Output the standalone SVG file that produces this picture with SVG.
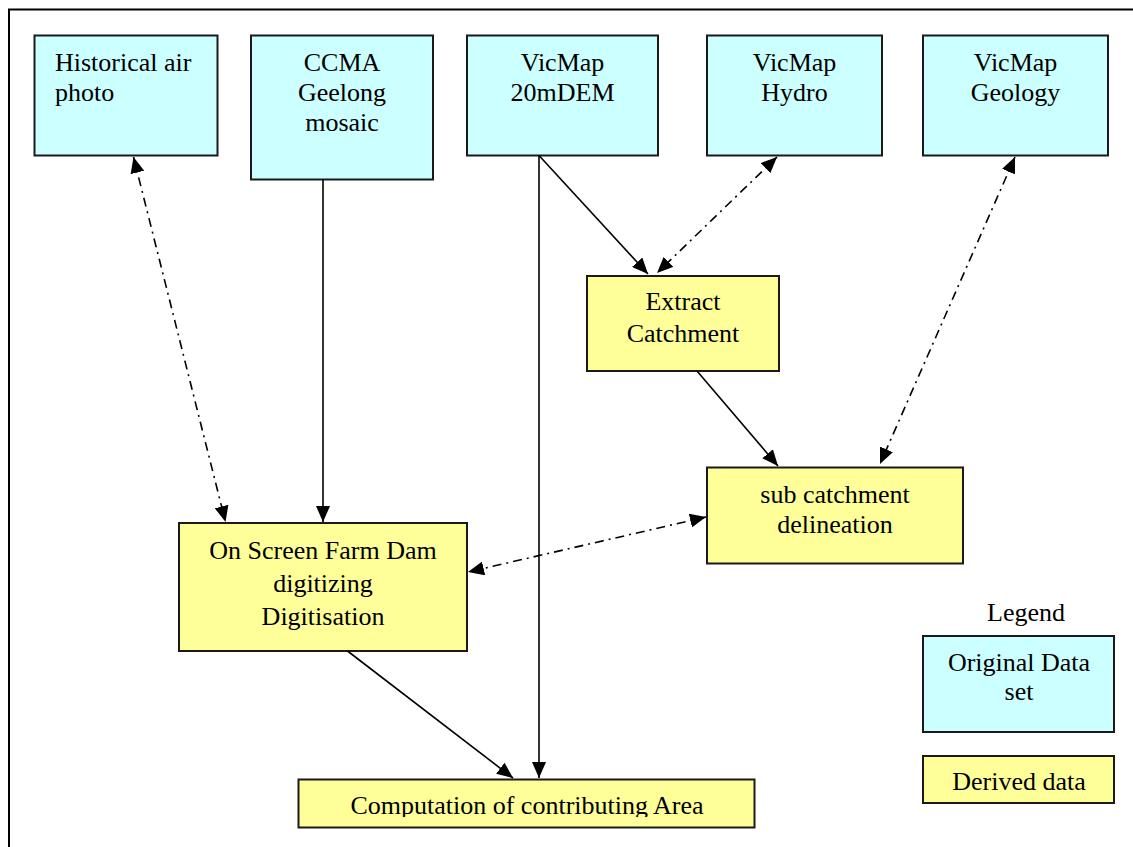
<svg xmlns="http://www.w3.org/2000/svg" width="1133" height="847" viewBox="0 0 1133 847">
<style>
.orig{fill:#CCFFFF;stroke:#1a1a1a;stroke-width:2}
.der{fill:#FFFF99;stroke:#1a1a1a;stroke-width:2}
text{font-family:"Liberation Serif","Times New Roman",serif;font-size:26px;fill:#000}
.c{text-anchor:middle}
.solid{fill:none;stroke:#000;stroke-width:1.6}
.dash{fill:none;stroke:#000;stroke-width:1.6;stroke-dasharray:9 5 2 5}
</style>
<defs>
<marker id="ah" markerUnits="userSpaceOnUse" markerWidth="17" markerHeight="14" viewBox="0 0 17 14" refX="16" refY="7" orient="auto-start-reverse">
<path d="M0,0 L16,7 L0,14 z" fill="#000" stroke="none"/>
</marker>
<clipPath id="clipComp"><rect x="298" y="779" width="457" height="38"/></clipPath>
</defs>
<rect x="0" y="0" width="1133" height="847" fill="#fff"/>
<path d="M9,847 L9,9.5 L1133,9.5" fill="none" stroke="#000" stroke-width="2"/>

<g id="historical">
<rect class="orig" x="34.5" y="35.5" width="183" height="120"/>
<text x="55" y="71">Historical air</text>
<text x="55" y="101">photo</text>
</g>
<g id="ccma">
<rect class="orig" x="251" y="35.5" width="182" height="144"/>
<text class="c" x="342" y="71">CCMA</text>
<text class="c" x="342" y="101">Geelong</text>
<text class="c" x="342" y="131">mosaic</text>
</g>
<g id="dem">
<rect class="orig" x="467" y="35.5" width="191" height="120"/>
<text class="c" x="562.5" y="71">VicMap</text>
<text class="c" x="562.5" y="101">20mDEM</text>
</g>
<g id="hydro">
<rect class="orig" x="707" y="35.5" width="175" height="120"/>
<text class="c" x="794.5" y="71">VicMap</text>
<text class="c" x="794.5" y="101">Hydro</text>
</g>
<g id="geology">
<rect class="orig" x="923" y="35.5" width="185" height="120"/>
<text class="c" x="1015.5" y="71">VicMap</text>
<text class="c" x="1015.5" y="101">Geology</text>
</g>
<g id="extract">
<rect class="der" x="587" y="276" width="192" height="95"/>
<text class="c" x="683" y="310">Extract</text>
<text class="c" x="683" y="342">Catchment</text>
</g>
<g id="subcatchment">
<rect class="der" x="707" y="467.5" width="256" height="96"/>
<text class="c" x="835" y="503">sub catchment</text>
<text class="c" x="835" y="533">delineation</text>
</g>
<g id="onscreen">
<rect class="der" x="179" y="523" width="288" height="128"/>
<text class="c" x="323" y="559">On Screen Farm Dam</text>
<text class="c" x="323" y="592">digitizing</text>
<text class="c" x="323" y="625">Digitisation</text>
</g>
<g id="computation">
<rect class="der" x="298.5" y="779.5" width="456" height="48"/>
<text class="c" x="527" y="814" clip-path="url(#clipComp)">Computation of contributing Area</text>
</g>
<g id="legend">
<text class="c" x="1026" y="621">Legend</text>
<rect class="orig" x="923" y="636" width="191" height="96"/>
<text class="c" x="1019" y="671">Original Data</text>
<text class="c" x="1019" y="700">set</text>
<rect class="der" x="923" y="756" width="191" height="47"/>
<text class="c" x="1019" y="790">Derived data</text>
</g>

<g id="connectors">
<path class="dash" d="M133.5,157 L225.5,522" marker-start="url(#ah)" marker-end="url(#ah)"/>
<path class="solid" d="M323,179.5 L323,522" marker-end="url(#ah)"/>
<path class="solid" d="M539,155.5 L648,274" marker-end="url(#ah)"/>
<path class="dash" d="M777,157 L657,273" marker-start="url(#ah)" marker-end="url(#ah)"/>
<path class="solid" d="M539,155.5 L539,778" marker-end="url(#ah)"/>
<path class="solid" d="M697,371 L778,466" marker-end="url(#ah)"/>
<path class="dash" d="M1015,157 L880,464" marker-start="url(#ah)" marker-end="url(#ah)"/>
<path class="dash" d="M706,517 L468,572" marker-start="url(#ah)" marker-end="url(#ah)"/>
<path class="solid" d="M347.5,651 L513,778" marker-end="url(#ah)"/>
</g>
</svg>
